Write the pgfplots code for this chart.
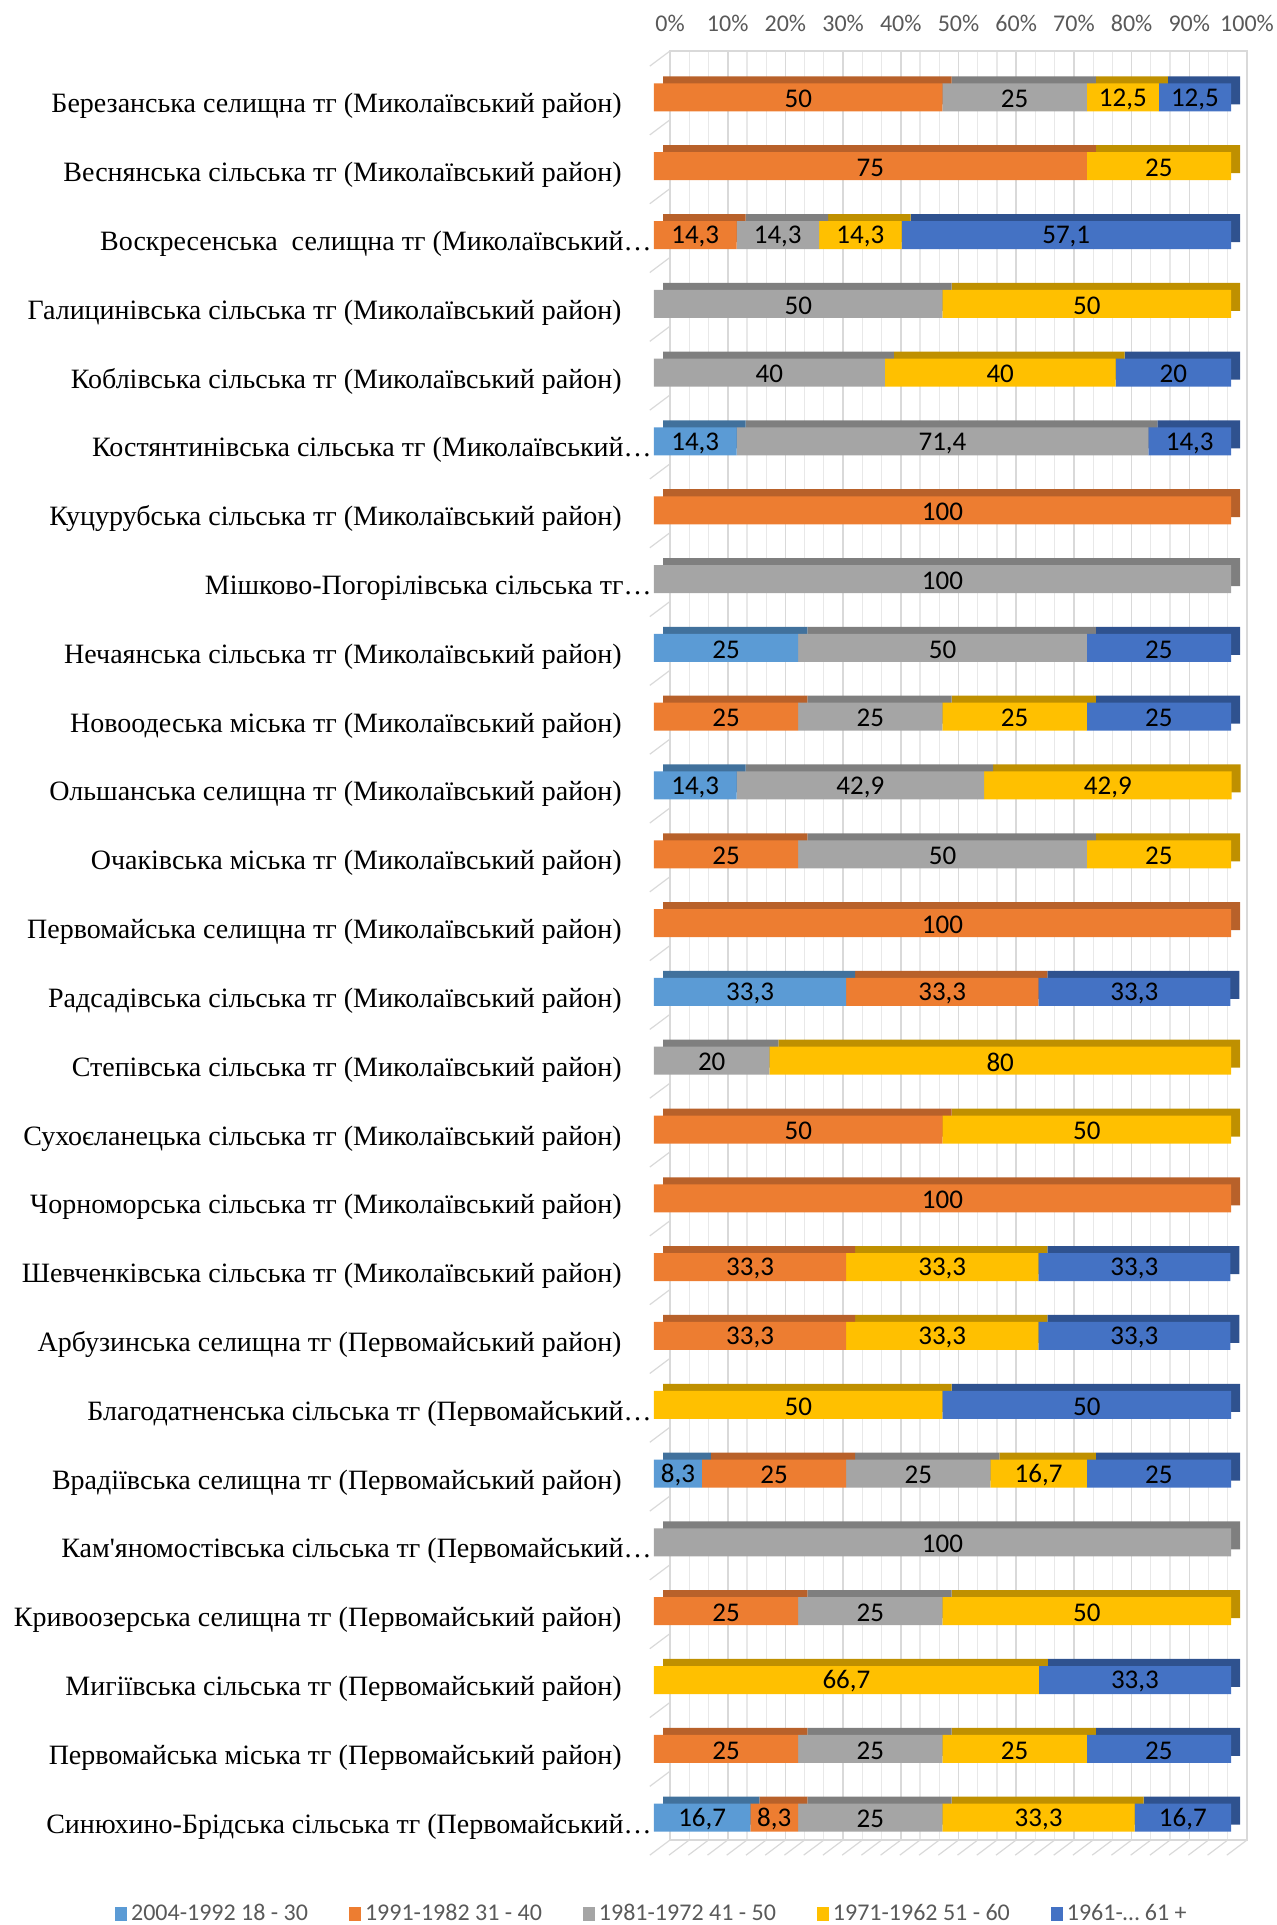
\documentclass[border=0pt]{standalone}
\usepackage{pgfplots}
\usepackage{pgfplotstable}
\pgfplotsset{compat=1.18}
\usepackage{fontspec}
\setmainfont{Liberation Serif}
\newfontfamily\carlito{Carlito}
\definecolor{cLB}{HTML}{5B9BD5}\definecolor{dLB}{HTML}{41719C}
\definecolor{cOR}{HTML}{ED7D31}\definecolor{dOR}{HTML}{B8612A}
\definecolor{cGR}{HTML}{A5A5A5}\definecolor{dGR}{HTML}{7F7F7F}
\definecolor{cYE}{HTML}{FFC000}\definecolor{dYE}{HTML}{BF9000}
\definecolor{cBL}{HTML}{4472C4}\definecolor{dBL}{HTML}{2F528F}
\definecolor{txtgray}{HTML}{595959}
\definecolor{wall}{HTML}{D9D9D9}
\definecolor{wallminor}{HTML}{E8E8E8}

\pgfplotstableread{
idx a b c d e
0 0 50 25 12.5 12.5
1 0 75 0 25 0
2 0 14.3 14.3 14.3 57.1
3 0 0 50 50 0
4 0 0 40 40 20
5 14.3 0 71.4 0 14.3
6 0 100 0 0 0
7 0 0 100 0 0
8 25 0 50 0 25
9 0 25 25 25 25
10 14.3 0 42.9 42.9 0
11 0 25 50 25 0
12 0 100 0 0 0
13 33.3 33.3 0 0 33.3
14 0 0 20 80 0
15 0 50 0 50 0
16 0 100 0 0 0
17 0 33.3 0 33.3 33.3
18 0 33.3 0 33.3 33.3
19 0 0 0 50 50
20 8.3 25 25 16.7 25
21 0 0 100 0 0
22 0 25 25 50 0
23 0 0 0 66.7 33.3
24 0 25 25 25 25
25 16.7 8.3 25 33.3 16.7
}\data

\pgfplotsset{
  common/.style={
    anchor=south west, scale only axis,
    width=288.5pt, height=894.5pt,
    xmin=0, xmax=100, ymin=-0.5, ymax=25.5, y dir=reverse,
    clip=false,
  },
  bars/.style={
    common, xbar stacked, bar width=14pt,
    axis line style={draw=none}, tick style={draw=none},
  },
}

\begin{document}
\begin{tikzpicture}
\path[use as bounding box] (-327pt,-36.5pt) rectangle (311.5pt,926pt);

% back wall with grid and top tick labels
\begin{axis}[common, at={(8pt,6pt)},
  axis line style={draw=wall, line width=0.8pt},
  xtick={0,10,...,100},
  xticklabels={0\%,10\%,20\%,30\%,40\%,50\%,60\%,70\%,80\%,90\%,100\%},
  xticklabel pos=upper,
  xticklabel style={font=\carlito\fontsize{12}{14}\selectfont, text=txtgray, anchor=center, yshift=14pt},
  ytick=\empty,
  tick style={draw=none},
  minor x tick num=2,
  xmajorgrids, xminorgrids,
  major grid style={draw=wall, line width=0.8pt},
  minor grid style={draw=wallminor, line width=0.6pt},
]
% floor hatching
\addplot[draw=wall, line width=0.6pt, quiver={u=-3.5, v=0.22}, mark=none]
  coordinates {(0,25.5) (3.33,25.5) (6.67,25.5) (10,25.5) (13.33,25.5) (16.67,25.5) (20,25.5)
  (23.33,25.5) (26.67,25.5) (30,25.5) (33.33,25.5) (36.67,25.5) (40,25.5) (43.33,25.5) (46.67,25.5)
  (50,25.5) (53.33,25.5) (56.67,25.5) (60,25.5) (63.33,25.5) (66.67,25.5) (70,25.5) (73.33,25.5)
  (76.67,25.5) (80,25.5) (83.33,25.5) (86.67,25.5) (90,25.5) (93.33,25.5) (96.67,25.5) (100,25.5)};
% side wall marks at category boundaries
\addplot[draw=wall, line width=0.6pt, quiver={u=-3.5, v=0.22}, mark=none]
  coordinates {(0,-0.5) (0,0.5) (0,1.5) (0,2.5) (0,3.5) (0,4.5) (0,5.5) (0,6.5) (0,7.5) (0,8.5)
  (0,9.5) (0,10.5) (0,11.5) (0,12.5) (0,13.5) (0,14.5) (0,15.5) (0,16.5) (0,17.5) (0,18.5)
  (0,19.5) (0,20.5) (0,21.5) (0,22.5) (0,23.5) (0,24.5)};
\end{axis}

% dark top/side faces
\begin{axis}[bars, at={(4.5pt,3.5pt)}, xtick=\empty, ytick=\empty]
\addplot[fill=dLB, draw=none] table[x=a, y=idx]{\data};
\addplot[fill=dOR, draw=none] table[x=b, y=idx]{\data};
\addplot[fill=dGR, draw=none] table[x=c, y=idx]{\data};
\addplot[fill=dYE, draw=none] table[x=d, y=idx]{\data};
\addplot[fill=dBL, draw=none] table[x=e, y=idx]{\data};
\end{axis}

% front faces
\begin{axis}[bars, at={(0pt,0pt)},
  xtick=\empty,
  ytick={0,...,25},
  yticklabels={
    {Березанська селищна тг (Миколаївський район)},
    {Веснянська сільська тг (Миколаївський район)},
    {Воскресенська\ \ селищна тг (Миколаївський…\kern-15pt},
    {Галицинівська сільська тг (Миколаївський район)},
    {Коблівська сільська тг (Миколаївський район)},
    {Костянтинівська сільська тг (Миколаївський…\kern-15pt},
    {Куцурубська сільська тг (Миколаївський район)},
    {Мішково-Погорілівська сільська тг…\kern-15pt},
    {Нечаянська сільська тг (Миколаївський район)},
    {Новоодеська міська тг (Миколаївський район)},
    {Ольшанська селищна тг (Миколаївський район)},
    {Очаківська міська тг (Миколаївський район)},
    {Первомайська селищна тг (Миколаївський район)},
    {Радсадівська сільська тг (Миколаївський район)},
    {Степівська сільська тг (Миколаївський район)},
    {Сухоєланецька сільська тг (Миколаївський район)},
    {Чорноморська сільська тг (Миколаївський район)},
    {Шевченківська сільська тг (Миколаївський район)},
    {Арбузинська селищна тг (Первомайський район)},
    {Благодатненська сільська тг (Первомайський…\kern-15pt},
    {Врадіївська селищна тг (Первомайський район)},
    {Кам\textquotesingle яномостівська сільська тг (Первомайський…\kern-15pt},
    {Кривоозерська селищна тг (Первомайський район)},
    {Мигіївська сільська тг (Первомайський район)},
    {Первомайська міська тг (Первомайський район)},
    {Синюхино-Брідська сільська тг (Первомайський…\kern-15pt},
  },
  yticklabel style={font=\fontsize{14}{16}\selectfont, anchor=base east, inner sep=0pt, xshift=-16pt, yshift=-7.75pt},
  point meta=explicit,
  /pgf/number format/.cd, use comma, fixed, precision=1, assume math mode=true,
  /pgfplots/.cd,
  nodes near coords={\pgfmathfloatifflags{\pgfplotspointmeta}{0}{}{\pgfmathprintnumber{\pgfplotspointmeta}}},
  every node near coord/.append style={font=\carlito\fontsize{13.5}{15}\selectfont, text=black, anchor=center, yshift=-0.8pt},
  legend columns=5,
  legend style={draw=none, fill=none, at={(axis description cs:-0.002,-0.0345)}, anchor=center,
    font=\carlito\fontsize{12}{14}\selectfont, text=txtgray,
    /tikz/every even column/.append style={column sep=18.5pt}},
  legend cell align=left,
  legend image code/.code={\fill[#1] (0pt,-3.5pt) rectangle (6pt,3.5pt);},
]
\addplot[fill=cLB, draw=none] table[x=a, y=idx, meta=a]{\data};
\addplot[fill=cOR, draw=none] table[x=b, y=idx, meta=b]{\data};
\addplot[fill=cGR, draw=none] table[x=c, y=idx, meta=c]{\data};
\addplot[fill=cYE, draw=none] table[x=d, y=idx, meta=d]{\data};
\addplot[fill=cBL, draw=none] table[x=e, y=idx, meta=e]{\data};
\legend{{2004-1992 18 - 30},{1991-1982 31 - 40},{1981-1972 41 - 50},{1971-1962 51 - 60},{1961-… 61 +}}
\end{axis}
\end{tikzpicture}
\end{document}
